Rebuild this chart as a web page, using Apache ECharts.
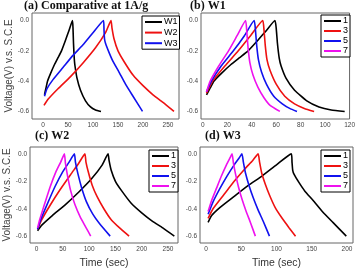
<!DOCTYPE html>
<html>
<head>
<meta charset="utf-8">
<script src="https://cdn.jsdelivr.net/npm/echarts@6/dist/echarts.min.js"></script>
<style>
  html, body { margin: 0; padding: 0; background: #fff; }
  #chart { width: 358px; height: 270px; }
</style>
</head>
<body>
<div id="chart"></div>
<script>
// tick labels
const xTicksWide = [0, 50, 100, 150, 200, 250]
const xTicksW1 = [0, 20, 40, 60, 80, 100, 120]
const xTicksW3 = [0, 50, 100, 150, 200]
const yTicks = [-0.6, -0.4, -0.2, 0]

// W1 cycles (panel b) - [time, voltage]
const w1c1 = [[3,-0.49],[6,-0.445],[9,-0.4],[15,-0.35],[23,-0.29],[30,-0.245],[37,-0.2],[45,-0.13],[52,-0.065],[59,0],
  [60,-0.05],[61,-0.15],[62.5,-0.25],[64,-0.3],[68,-0.38],[75,-0.46],[85,-0.53],[95,-0.57],[105,-0.59],[116,-0.6]]
const w1c3 = [[3,-0.48],[8,-0.4],[18,-0.3],[29,-0.2],[39,-0.1],[49,0],
  [50,-0.06],[51,-0.16],[52.5,-0.26],[55,-0.33],[60,-0.42],[67,-0.5],[75,-0.55],[83,-0.58],[91,-0.6]]
const w1c5 = [[3,-0.47],[7,-0.4],[15,-0.3],[25,-0.2],[34,-0.1],[42,0],
  [43,-0.06],[44,-0.16],[45.5,-0.26],[48,-0.34],[52,-0.42],[58,-0.5],[65,-0.55],[71,-0.58],[77,-0.6]]
const w1c7 = [[3,-0.47],[6,-0.4],[13,-0.3],[21,-0.2],[28,-0.1],[35,0],
  [36,-0.08],[37,-0.18],[38.5,-0.28],[41,-0.36],[45,-0.44],[50,-0.51],[55,-0.56],[63,-0.6]]

// W2 cycles (panel c)
const w2c1 = [[2,-0.56],[10,-0.52],[30,-0.45],[55,-0.37],[80,-0.28],[105,-0.18],[125,-0.08],[136,0],
  [138,-0.05],[142,-0.12],[150,-0.2],[162,-0.27],[180,-0.36],[200,-0.43],[220,-0.49],[240,-0.54],[262,-0.6]]
const w2c3 = [[2,-0.55],[10,-0.48],[25,-0.38],[45,-0.26],[65,-0.15],[80,-0.07],[92,0],
  [94,-0.06],[99,-0.14],[106,-0.23],[115,-0.31],[128,-0.4],[142,-0.48],[158,-0.54],[176,-0.6]]
const w2c5 = [[2,-0.55],[8,-0.48],[20,-0.37],[35,-0.24],[50,-0.13],[62,-0.06],[72,0],
  [74,-0.06],[79,-0.15],[86,-0.25],[95,-0.35],[107,-0.44],[120,-0.51],[140,-0.6]]
const w2c7 = [[2,-0.54],[6,-0.48],[15,-0.37],[26,-0.24],[37,-0.13],[46,-0.06],[53,0],
  [55,-0.07],[59,-0.16],[65,-0.27],[73,-0.37],[83,-0.46],[93,-0.53],[103,-0.6]]

// W3 cycles (panel d)
const w3c1 = [[3,-0.5],[8,-0.45],[20,-0.39],[40,-0.31],[60,-0.23],[80,-0.16],[100,-0.08],[121,0],
  [122,-0.06],[123,-0.12],[125,-0.15],[132,-0.21],[140,-0.27],[152,-0.34],[165,-0.42],[180,-0.5],[199,-0.6]]
const w3c3 = [[3,-0.47],[10,-0.4],[25,-0.3],[40,-0.2],[55,-0.11],[66,-0.05],[74,0],
  [76,-0.06],[79,-0.14],[84,-0.22],[90,-0.3],[98,-0.39],[108,-0.47],[118,-0.54],[127,-0.6]]
const w3c5 = [[3,-0.44],[10,-0.35],[20,-0.25],[30,-0.16],[40,-0.08],[47,-0.03],[51,0],
  [53,-0.06],[56,-0.14],[61,-0.23],[67,-0.32],[74,-0.41],[81,-0.49],[90,-0.6]]
const w3c7 = [[3,-0.42],[8,-0.34],[15,-0.25],[22,-0.16],[29,-0.08],[34,-0.03],[37,0],
  [39,-0.07],[42,-0.15],[46,-0.24],[51,-0.33],[57,-0.42],[63,-0.5],[70,-0.6]]

const cycleNames = ['1', '3', '5', '7']
const sampleNames = ['W1', 'W2', 'W3']
const colors = ['#000000', '#ee1111', '#1111ee', '#ee11ee']

const chart = echarts.init(document.getElementById('chart'))

const tickFont = { fontFamily: 'Liberation Sans', fontSize: 6.5, color: '#444' }
const frame = '#666'

// grid boxes
const grids = [
  { left: 32, top: 13, width: 147, height: 106 },
  { left: 201, top: 13, width: 152, height: 106 },
  { left: 30, top: 147, width: 148, height: 105 },
  { left: 200, top: 147, width: 153, height: 105 }
].map(g => ({ ...g, show: true, borderColor: frame, borderWidth: 1 }))

const xRanges = [[-22, 272], [-1.5, 120], [-12.4, 269], [-8.5, 208.5]]
const xTickSets = [xTicksWide, xTicksW1, xTicksWide, xTicksW3]

const xAxes = xRanges.map((r, i) => ({
  type: 'value', gridIndex: i, min: r[0], max: r[1],
  axisLine: { show: false },
  splitLine: { show: false },
  axisTick: { show: false },
  axisLabel: { ...tickFont, margin: 3, customValues: xTickSets[i] },
  name: i >= 2 ? 'Time (sec)' : '',
  nameLocation: 'middle', nameGap: 15,
  nameTextStyle: { fontFamily: 'Liberation Sans', fontSize: 10.5, color: '#333' }
}))

const yAxes = [0, 1, 2, 3].map(i => ({
  type: 'value', gridIndex: i, min: -0.65, max: 0.05,
  axisLine: { show: false },
  splitLine: { show: false },
  axisTick: { show: false },
  axisLabel: { ...tickFont, margin: 3, customValues: yTicks, formatter: v => v.toFixed(1) },
  name: (i === 0 || i === 2) ? 'Voltage(V) v.s. S.C.E' : '',
  nameLocation: 'middle', nameGap: 13,
  nameTextStyle: { fontFamily: 'Liberation Sans', fontSize: 10, color: '#444' }
}))

const mk = (name, data, color, idx) => ({
  name, type: 'line', data, xAxisIndex: idx, yAxisIndex: idx,
  showSymbol: false, symbol: 'none', smooth: 0.15,
  lineStyle: { color, width: 1.6 }, itemStyle: { color },
  animation: false
})

const series = [
  mk('W1', w1c1, colors[0], 0),
  mk('W2', w2c1, colors[1], 0),
  mk('W3', w3c1, colors[2], 0),
  ...[w1c1, w1c3, w1c5, w1c7].map((d, k) => mk(cycleNames[k], d, colors[k], 1)),
  ...[w2c1, w2c3, w2c5, w2c7].map((d, k) => mk(cycleNames[k], d, colors[k], 2)),
  ...[w3c1, w3c3, w3c5, w3c7].map((d, k) => mk(cycleNames[k], d, colors[k], 3))
]

const legendBase = {
  orient: 'vertical', icon: 'rect', itemWidth: 17, itemHeight: 2, itemGap: 0,
  borderColor: '#000', borderWidth: 1, backgroundColor: '#fff', borderRadius: 0,
  padding: [1, 2, 1, 3], selectedMode: false,
  textStyle: { fontFamily: 'Liberation Sans', fontSize: 9, color: '#000', lineHeight: 10, padding: [0, 0, 0, -3] }
}
const legends = [
  { ...legendBase, left: 142, top: 16, itemGap: 0.6, data: sampleNames },
  { ...legendBase, left: 321, top: 15, data: cycleNames },
  { ...legendBase, left: 149, top: 150, data: cycleNames },
  { ...legendBase, left: 321, top: 150, data: cycleNames }
]

const titleStyle = { fontFamily: 'Liberation Serif', fontWeight: 'bold', fontSize: 12, color: '#111' }
const titles = [
  { text: '(a) Comparative at 1A/g', left: 24, top: 0 },
  { text: '(b) W1', left: 190, top: 0 },
  { text: '(c) W2', left: 35, top: 130 },
  { text: '(d) W3', left: 205, top: 130 }
].map(t => ({ ...t, padding: 0, textStyle: titleStyle }))

chart.setOption({
  animation: false,
  title: titles,
  legend: legends,
  grid: grids,
  xAxis: xAxes,
  yAxis: yAxes,
  series
})
</script>
</body>
</html>
